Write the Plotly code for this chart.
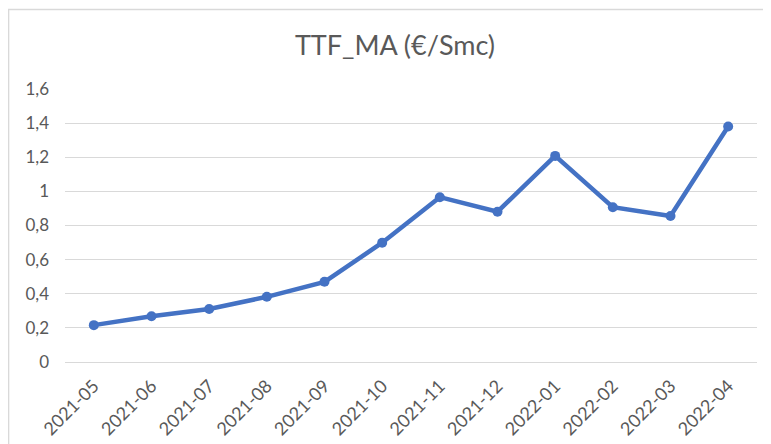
import plotly.graph_objects as go

months = ["2021-05", "2021-06", "2021-07", "2021-08", "2021-09", "2021-10",
          "2021-11", "2021-12", "2022-01", "2022-02", "2022-03", "2022-04"]
ttf_ma = [0.216, 0.268, 0.311, 0.382, 0.470, 0.699,
          0.966, 0.881, 1.208, 0.907, 0.856, 1.380]
y_ticks = [0, 0.2, 0.4, 0.6, 0.8, 1.0, 1.2, 1.4, 1.6]
title_text = "TTF_MA (€/Smc)"

W, H = 771, 444
OFF = 8  # page body margin offset
L, R, T, B = 64.5 - OFF, 771 - (757.2 - OFF), 89.3 - OFF, 444 - (361.7 - OFF)
pw, ph = W - L - R, H - T - B

def px_x(p):
    return (p - OFF - L) / pw

def px_y(p):
    return (H - B - (p - OFF)) / ph

fig = go.Figure()
fig.add_trace(go.Scatter(
    x=months, y=ttf_ma, mode="lines+markers",
    line=dict(color="#4472C4", width=4.5),
    marker=dict(color="#4472C4", size=10),
    showlegend=False,
))

fig.update_layout(
    width=W, height=H,
    margin=dict(l=L, r=R, t=T, b=B, autoexpand=False),
    paper_bgcolor="white", plot_bgcolor="white",
    separators=",.",
    font=dict(family="Lato, Calibri, sans-serif", color="#595959", size=17),
    title=dict(text=title_text, x=(395 - OFF) / W, xanchor="center",
               y=1 - (46 - OFF) / H, yanchor="middle",
               font=dict(size=27, color="#595959", family="Lato, Calibri, sans-serif")),
    xaxis=dict(type="category", showgrid=False, showline=False, ticks="",
               tickangle=-45, tickfont=dict(size=18, color="#595959"),
               ticklabelstandoff=9,
               range=[-0.5, len(months) - 0.5], automargin=False, fixedrange=True),
    yaxis=dict(range=[0, 1.6], tickvals=y_ticks,
               ticktext=[("%g" % v).replace(".", ",") for v in y_ticks],
               showgrid=True, gridcolor="#D9D9D9", gridwidth=1.3,
               zeroline=True, zerolinecolor="#D9D9D9", zerolinewidth=1.3,
               showline=False, ticks="", ticklabelstandoff=15,
               tickfont=dict(size=17, color="#595959"), automargin=False),
    shapes=[dict(type="rect", xref="paper", yref="paper",
                 x0=px_x(8), x1=px_x(790), y0=px_y(470), y1=px_y(10),
                 line=dict(color="#D9D9D9", width=1.5), fillcolor="rgba(0,0,0,0)",
                 layer="below")],
)

fig.write_html("out.html")
